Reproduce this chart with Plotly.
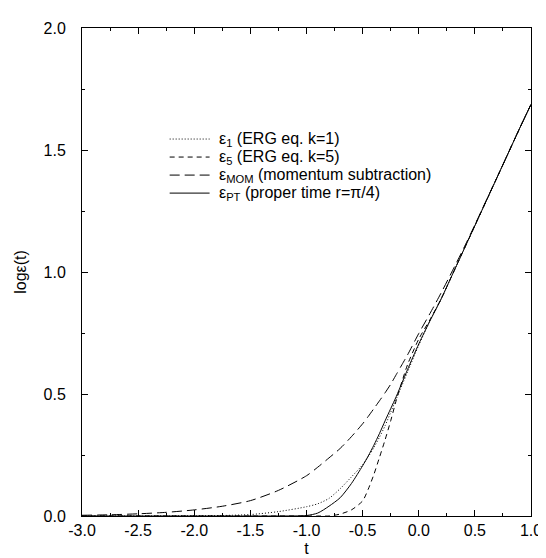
import plotly.graph_objects as go

t = [-3.0, -2.75, -2.5, -2.25, -2.0, -1.75, -1.5, -1.25, -1.0, -0.9, -0.8, -0.7, -0.6,
     -0.5, -0.45, -0.4, -0.35, -0.3, -0.25, -0.2, -0.15, -0.1, 0.0, 0.1, 0.2, 0.3,
     0.4, 0.5, 0.6, 0.7, 0.8, 0.9, 1.0]

eps1 = [0.0, 0.0, 0.0, 0.0005, 0.001, 0.002, 0.006, 0.018, 0.038, 0.05, 0.072, 0.112, 0.16,
        0.21, 0.243, 0.28, 0.323, 0.37, 0.425, 0.48, 0.535, 0.59, 0.70, 0.80, 0.89, 0.99,
        1.09, 1.19, 1.29, 1.39, 1.49, 1.59, 1.687]

eps5 = [0.0, 0.0, 0.0, 0.0, 0.0, 0.0, 0.0, 0.0, 0.0, 0.0, 0.0, 0.008, 0.025,
        0.062, 0.11, 0.17, 0.24, 0.312, 0.39, 0.475, 0.55, 0.62, 0.725, 0.805, 0.89, 0.99,
        1.09, 1.19, 1.29, 1.39, 1.49, 1.59, 1.687]

eps_mom = [0.003, 0.005, 0.009, 0.015, 0.025, 0.04, 0.063, 0.105, 0.165, 0.2, 0.238, 0.277, 0.325,
           0.378, 0.408, 0.44, 0.472, 0.505, 0.54, 0.58, 0.62, 0.66, 0.748, 0.83, 0.915, 1.005,
           1.097, 1.193, 1.292, 1.39, 1.49, 1.59, 1.687]

eps_pt = [0.0, 0.0, 0.0, 0.0, 0.0, 0.0, 0.0, 0.0, 0.002, 0.012, 0.04, 0.075, 0.133,
          0.206, 0.246, 0.29, 0.338, 0.39, 0.44, 0.49, 0.545, 0.60, 0.705, 0.80, 0.89, 0.99,
          1.09, 1.19, 1.29, 1.39, 1.49, 1.59, 1.687]

names = ["ε<sub>1</sub> (ERG eq. k=1)",
         "ε<sub>5</sub> (ERG eq. k=5)",
         "ε<sub>MOM</sub> (momentum subtraction)",
         "ε<sub>PT</sub> (proper time r=π/4)"]

x_ticks = [-3.0, -2.5, -2.0, -1.5, -1.0, -0.5, 0.0, 0.5, 1.0]
y_ticks = [0.0, 0.5, 1.0, 1.5, 2.0]

FONT = "Liberation Sans, Arial, Helvetica, sans-serif"
FS = 16

# plot area in pixels (for placing the hand-made legend)
W, H = 546, 558
ML, MR, MT, MB = 72, 13, 14, 43
PW, PH = W - ML - MR, H - MT - MB


def px_to_paper(px, py):
    return (px - ML) / PW, (H - MB - py) / PH


fig = go.Figure()
dashes = ["1px,2px", "5px,4px", "10px,5px", "solid"]
series = [eps1, eps5, eps_mom, eps_pt]
for name, dash, ys in zip(names, dashes, series):
    fig.add_trace(go.Scatter(
        x=t, y=ys, mode="lines", name=name, showlegend=False,
        line=dict(color="black", width=1, dash=dash, shape="spline", smoothing=0.7),
    ))

# legend (sample lines + labels)
row_y = [128, 146.5, 165, 183.5]
for name, dash, ry in zip(names, dashes, row_y):
    x0, y0 = px_to_paper(162, ry)
    x1, _ = px_to_paper(203, ry)
    fig.add_shape(type="line", xref="paper", yref="paper", x0=x0, x1=x1, y0=y0, y1=y0,
                  line=dict(color="black", width=1, dash=dash))
    tx, _ = px_to_paper(211, ry)
    fig.add_annotation(xref="paper", yref="paper", x=tx, y=y0, text=name,
                       showarrow=False, xanchor="left", yanchor="middle",
                       font=dict(family=FONT, size=FS, color="black"))

axis_common = dict(
    showline=True, linecolor="black", linewidth=1, mirror="ticks",
    ticks="inside", ticklen=6, tickwidth=1, tickcolor="black",
    showgrid=False, zeroline=False,
    tickfont=dict(family=FONT, size=FS, color="black"),
)

fig.update_xaxes(
    range=[-3, 1], tickvals=x_ticks, ticktext=[f"{v:.1f}" for v in x_ticks],
    title=dict(text="t", font=dict(family=FONT, size=FS, color="black"), standoff=4),
    minor=dict(dtick=0.25, ticks="inside", ticklen=3, tickcolor="black", showgrid=False),
    ticklabelstandoff=0,
    **axis_common,
)
fig.update_yaxes(
    range=[0, 2], tickvals=y_ticks, ticktext=[f"{v:.1f}" for v in y_ticks],
    title=dict(text="logε(t)", font=dict(family=FONT, size=FS, color="black"), standoff=12),
    minor=dict(dtick=0.25, ticks="inside", ticklen=3, tickcolor="black", showgrid=False),
    ticklabelstandoff=12,
    **axis_common,
)

fig.update_layout(
    width=W, height=H,
    margin=dict(l=ML, r=MR, t=MT, b=MB),
    paper_bgcolor="white", plot_bgcolor="white",
    font=dict(family=FONT, size=FS, color="black"),
    showlegend=False,
)

fig.write_html("out.html")
